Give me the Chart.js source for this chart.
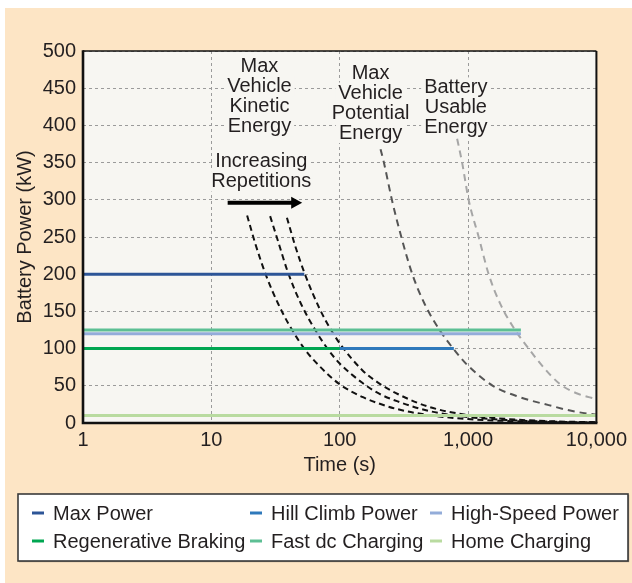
<!DOCTYPE html>
<html>
<head>
<meta charset="utf-8">
<script src="https://cdn.jsdelivr.net/npm/chart.js@4.4.0/dist/chart.umd.min.js"></script>
<style>
  html, body { margin: 0; padding: 0; background: #fff; }
  canvas { display: block; }
</style>
</head>
<body>
<canvas id="powerchart" width="632" height="583"></canvas>
<script>
// axis ticks
const xTickValues = [1, 10, 100, 1000, 10000];
const xTickLabels = ['1', '10', '100', '1,000', '10,000'];

// flat power levels (legend series)
const seriesNames = ['Max Power', 'Hill Climb Power', 'High-Speed Power', 'Regenerative Braking', 'Fast dc Charging', 'Home Charging'];
const seriesLevels = [200, 100, 120, 100, 125, 10];
const seriesStart = [1, 1, 1, 1, 1, 1];
const seriesEnd = [53, 775, 2580, 100, 2580, 10000];
const seriesColors = ['#2d5597', '#2f79bb', '#93acd9', '#00a651', '#5dbf94', '#b9dba0'];

// energy limit curves (time s, power kW)
const kinetic1Time = [19, 22, 27, 33, 40, 54, 70, 100, 150, 200, 283, 500, 1000, 2000, 5000, 10000];
const kinetic1Power = [279, 241, 196, 161, 133, 98, 76, 52, 35, 26.5, 18.5, 10.5, 5.3, 2.7, 1.1, 0.5];
const kinetic2Time = [28.7, 33, 39.4, 50, 65, 81, 100, 150, 200, 283, 500, 1000, 2000, 5000, 10000];
const kinetic2Power = [278, 245, 203, 160, 124, 99, 80, 54, 40, 29, 16, 8, 4, 1.6, 0.8];
const kinetic3Time = [38.8, 45, 53.6, 70, 85, 102, 150, 200, 283, 500, 1000, 2000, 5000, 10000];
const kinetic3Power = [276, 238, 200, 153, 126, 105, 71, 54, 39, 21.5, 10.7, 5.4, 2.1, 1.1];
const potentialTime = [208, 221, 255, 302, 368, 459, 600, 809, 1000, 1560, 2500, 4250, 6500, 10000];
const potentialPower = [368, 350, 300, 250, 200, 160, 125, 95, 77, 50, 35, 24, 16, 11];
const batteryTime = [822, 899, 1010, 1210, 1447, 1783, 2265, 2963, 4000, 5225, 7000, 10000];
const batteryPower = [382, 350, 300, 250, 200, 160, 128, 100, 72, 52, 40, 32];

const FONT = '"Liberation Sans", Arial, Helvetica, sans-serif';
const INK = '#231f20';
const PLOT_BG = '#f7f6f2';

Chart.defaults.font.family = FONT;
Chart.defaults.font.size = 20;
Chart.defaults.color = INK;

const zip = (xs, ys) => xs.map((x, i) => ({ x: x, y: ys[i] }));

const datasets = seriesNames.map((name, i) => ({
  label: name,
  data: [{ x: seriesStart[i], y: seriesLevels[i] }, { x: seriesEnd[i], y: seriesLevels[i] }],
  borderColor: seriesColors[i],
  borderWidth: 3,
  order: name === 'Regenerative Braking' ? 0 : 1,
  inLegend: true
}));

const curve = (label, t, p, color, dash) => ({
  label: label,
  data: zip(t, p),
  borderColor: color,
  borderWidth: 2,
  borderDash: dash,
  cubicInterpolationMode: 'monotone',
  order: 2
});
datasets.push(curve('Kinetic 1', kinetic1Time, kinetic1Power, '#111', [6, 4]));
datasets.push(curve('Kinetic 2', kinetic2Time, kinetic2Power, '#111', [6, 4]));
datasets.push(curve('Kinetic 3', kinetic3Time, kinetic3Power, '#111', [6, 4]));
datasets.push(curve('Potential', potentialTime, potentialPower, '#555', [7, 5]));
datasets.push(curve('Battery', batteryTime, batteryPower, '#a6a6a6', [7, 5]));

// text annotations, anchored in data units
const notes = [
  { lines: ['Max', 'Vehicle', 'Kinetic', 'Energy'], t: 23.7, p: 472, pad: 3 },
  { lines: ['Increasing', 'Repetitions'], t: 24.5, p: 344, pad: 1 },
  { lines: ['Max', 'Vehicle', 'Potential', 'Energy'], t: 174, p: 463, pad: 3 },
  { lines: ['Battery', 'Usable', 'Energy'], t: 803, p: 443, pad: 3 }
];

function drawNote(ctx, note, xs, ys) {
  const cx = xs.getPixelForValue(note.t);
  const y0 = ys.getPixelForValue(note.p);
  ctx.font = '20px ' + FONT;
  ctx.textAlign = 'center';
  ctx.textBaseline = 'alphabetic';
  note.lines.forEach((line, i) => {
    const y = y0 + i * 20;
    const w = ctx.measureText(line).width;
    ctx.fillStyle = PLOT_BG;
    ctx.fillRect(cx - w / 2 - note.pad, y - 16, w + note.pad * 2, 20.5);
    ctx.fillStyle = INK;
    ctx.fillText(line, cx, y);
  });
}

const decor = {
  id: 'decor',
  beforeDraw(chart) {
    const { ctx, chartArea: a } = chart;
    ctx.save();
    ctx.fillStyle = '#fff';
    ctx.fillRect(0, 0, chart.width, chart.height);
    ctx.fillStyle = '#fde5c5';
    ctx.fillRect(5, 8, chart.width - 5, chart.height - 8);
    ctx.fillStyle = PLOT_BG;
    ctx.fillRect(a.left, a.top, a.right - a.left, a.bottom - a.top);
    ctx.restore();
  },
  afterDatasetsDraw(chart) {
    const { ctx, chartArea: a } = chart;
    const xs = chart.scales.x, ys = chart.scales.y;
    ctx.save();
    notes.forEach(n => drawNote(ctx, n, xs, ys));

    // arrow
    const ax0 = xs.getPixelForValue(13.4), ax1 = xs.getPixelForValue(51);
    const ay = ys.getPixelForValue(296);
    ctx.strokeStyle = '#000';
    ctx.fillStyle = '#000';
    ctx.lineWidth = 4;
    ctx.beginPath();
    ctx.moveTo(ax0, ay);
    ctx.lineTo(ax1 - 10, ay);
    ctx.stroke();
    ctx.beginPath();
    ctx.moveTo(ax1 - 11, ay - 6);
    ctx.lineTo(ax1, ay);
    ctx.lineTo(ax1 - 11, ay + 6);
    ctx.closePath();
    ctx.fill();

    // plot frame
    ctx.strokeStyle = '#111';
    ctx.lineWidth = 1.4;
    ctx.beginPath();
    ctx.moveTo(a.left, a.top);
    ctx.lineTo(a.right, a.top);
    ctx.stroke();
    ctx.lineWidth = 2;
    ctx.beginPath();
    ctx.moveTo(a.right, a.top);
    ctx.lineTo(a.right, a.bottom);
    ctx.stroke();
    ctx.lineWidth = 2.6;
    ctx.beginPath();
    ctx.moveTo(a.left, a.top - 0.7);
    ctx.lineTo(a.left, a.bottom);
    ctx.lineTo(a.right + 1, a.bottom);
    ctx.stroke();
    ctx.restore();
  },
  afterDraw(chart) {
    const ctx = chart.ctx;
    ctx.save();
    // legend box
    ctx.shadowColor = 'rgba(0,0,0,0.35)';
    ctx.shadowOffsetX = 1;
    ctx.shadowOffsetY = 1;
    ctx.shadowBlur = 1;
    ctx.fillStyle = '#fff';
    ctx.fillRect(18, 494, 610, 67);
    ctx.shadowColor = 'transparent';
    ctx.strokeStyle = '#3a3a3a';
    ctx.lineWidth = 1.6;
    ctx.strokeRect(18, 494, 610, 67);

    const cols = [32, 250, 430];
    const rows = [513, 541];
    ctx.font = '20px ' + FONT;
    ctx.textAlign = 'left';
    ctx.textBaseline = 'alphabetic';
    const items = chart.data.datasets.filter(d => d.inLegend);
    items.forEach((d, i) => {
      const x = cols[i % 3], y = rows[Math.floor(i / 3)];
      ctx.strokeStyle = d.borderColor;
      ctx.lineWidth = 3;
      ctx.beginPath();
      ctx.moveTo(x, y);
      ctx.lineTo(x + 12, y);
      ctx.stroke();
      ctx.fillStyle = INK;
      ctx.fillText(d.label, x + 21, y + 7);
    });
    ctx.restore();
  }
};

new Chart(document.getElementById('powerchart').getContext('2d'), {
  type: 'line',
  data: { datasets: datasets },
  options: {
    responsive: false,
    animation: false,
    devicePixelRatio: 1,
    layout: { padding: { left: 5, top: 51, right: 34, bottom: 106 } },
    elements: { point: { radius: 0 } },
    plugins: { legend: { display: false }, tooltip: { enabled: false } },
    scales: {
      x: {
        type: 'logarithmic',
        min: 1,
        max: 10000,
        afterBuildTicks(scale) { scale.ticks = xTickValues.map(v => ({ value: v })); },
        afterFit(scale) { scale.height = 54; },
        ticks: {
          callback: (v, i) => xTickLabels[i],
          padding: 5,
          maxRotation: 0,
          autoSkip: false,
          color: INK
        },
        grid: { color: '#9b9b9b', lineWidth: 1, drawTicks: false },
        border: { display: false, dash: [3, 3] },
        title: { display: true, text: 'Time (s)', color: INK, padding: 0 }
      },
      y: {
        min: 0,
        max: 500,
        afterFit(scale) { scale.width = 78; },
        ticks: { stepSize: 50, padding: 7, color: INK },
        grid: { color: '#9b9b9b', lineWidth: 1, drawTicks: false },
        border: { display: false, dash: [3, 3] },
        title: { display: true, text: 'Battery Power (kW)', color: INK, padding: { top: 8, bottom: 0 } }
      }
    }
  },
  plugins: [decor]
});
</script>
</body>
</html>
